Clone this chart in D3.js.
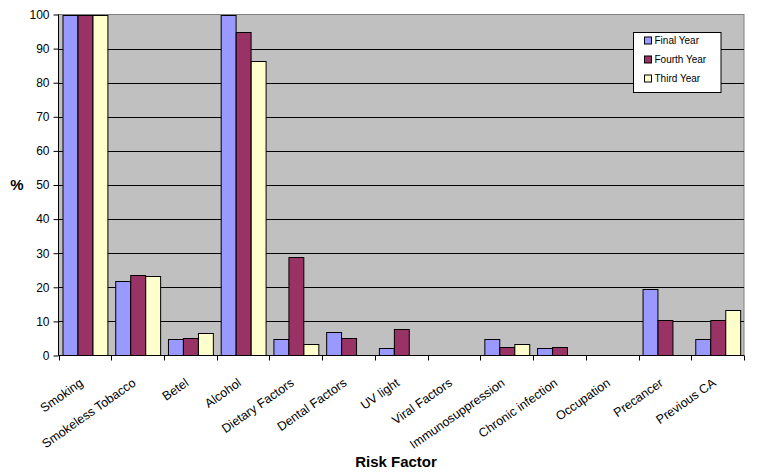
<!DOCTYPE html>
<html><head><meta charset="utf-8">
<script src="https://cdn.jsdelivr.net/npm/d3@7"></script>
<style>body{margin:0;background:#fff}svg{display:block}text{font-family:"Liberation Sans",Arial,sans-serif}</style>
</head><body>
<svg id="c" width="772" height="472"></svg>
<script>
const categories = ["Smoking","Smokeless Tobacco","Betel","Alcohol","Dietary Factors","Dental Factors","UV light","Viral Factors","Immunosuppression","Chronic infection","Occupation","Precancer","Previous CA"];
const seriesNames = ["Final Year","Fourth Year","Third Year"];
const finalYear  = [100, 21.8, 4.7, 100, 4.8, 7.0, 2.2, 0, 4.8, 2.2, 0, 19.5, 4.8];
const fourthYear = [100, 23.5, 5.0, 94.8, 28.9, 5.1, 7.7, 0, 2.5, 2.5, 0, 10.4, 10.4];
const thirdYear  = [100, 23.3, 6.5, 86.5, 3.3, 0, 0, 0, 3.3, 0, 0, 0, 13.3];
const yTicks = [0,10,20,30,40,50,60,70,80,90,100];
const colors = ["#9999FF","#993366","#FFFFCC"];
const series = [finalYear, fourthYear, thirdYear];

const svg = d3.select("#c");
const L = 58.5, R = 744, T = 14.5, B = 355.5;
const x = d3.scaleBand().domain(categories).range([L, R]).paddingInner(0).paddingOuter(0);
const inner = d3.scaleBand().domain(seriesNames).range([0, x.bandwidth()]).paddingInner(0).paddingOuter(0.27);
const y = d3.scaleLinear().domain([0, 100]).range([B, T]);

svg.append("rect").attr("x", L).attr("y", T).attr("width", R - L).attr("height", B - T)
  .attr("fill", "#C0C0C0").attr("stroke", "#808080").attr("stroke-width", 1);

svg.append("g").selectAll("line").data(yTicks.filter(d => d > 0 && d < 100)).join("line")
  .attr("x1", L).attr("x2", R).attr("y1", d => Math.round(y(d)) + 0.5).attr("y2", d => Math.round(y(d)) + 0.5)
  .attr("stroke", "#000").attr("stroke-width", 1);

const groups = svg.append("g").selectAll("g").data(categories).join("g")
  .attr("transform", d => `translate(${x(d)},0)`);
groups.selectAll("rect").data((c, i) => series.map((s, j) => ({name: seriesNames[j], v: s[i], j})).filter(d => d.v > 0))
  .join("rect")
  .attr("x", d => Math.round(inner(d.name)) + 0.5)
  .attr("width", inner.bandwidth())
  .attr("y", d => Math.round(y(d.v)) + 0.5)
  .attr("height", d => B - Math.round(y(d.v)) - 0.5)
  .attr("fill", d => colors[d.j]).attr("stroke", "#000").attr("stroke-width", 1);

// Y axis
const yAxis = d3.axisLeft(y).tickValues(yTicks).tickSize(5).tickPadding(4);
const gy = svg.append("g").attr("transform", `translate(${L},0)`).call(yAxis);
gy.selectAll("text").attr("font-size", 12).attr("fill", "#000").attr("font-family", "'Liberation Sans', Arial, sans-serif");
gy.selectAll("line,path").attr("stroke", "#000");
gy.select(".domain").attr("d", `M0,${T}V${B}`);

// X axis with ticks at category boundaries
const gx = svg.append("g");
gx.append("line").attr("x1", L).attr("x2", R).attr("y1", B).attr("y2", B).attr("stroke", "#000");
const bounds = categories.map(c => x(c)).concat([R]);
gx.selectAll("line.tk").data(bounds).join("line").attr("class", "tk")
  .attr("x1", d => Math.round(d) + 0.5).attr("x2", d => Math.round(d) + 0.5).attr("y1", B).attr("y2", B + 5).attr("stroke", "#000");
gx.selectAll("text").data(categories).join("text")
  .attr("transform", d => `translate(${x(d) + x.bandwidth() / 2 - 6},${B + 22}) rotate(-35)`)
  .attr("text-anchor", "end").attr("dy", "0.71em").attr("font-size", 12.5).attr("fill", "#000")
  .text(d => d);

svg.append("text").attr("x", 396).attr("y", 467).attr("text-anchor", "middle")
  .attr("font-size", 15).attr("font-weight", "bold").text("Risk Factor");
svg.append("text").attr("x", 17).attr("y", 190).attr("text-anchor", "middle")
  .attr("font-size", 15).attr("font-weight", "bold").text("%");

// Legend
const lg = svg.append("g").attr("transform", "translate(633.5,32.5)");
lg.append("rect").attr("width", 87.5).attr("height", 60).attr("fill", "#fff").attr("stroke", "#000");
seriesNames.forEach((n, i) => {
  const row = lg.append("g").attr("transform", `translate(11,${11.5 + i * 19})`);
  row.append("rect").attr("width", 7).attr("height", 7).attr("y", -7).attr("fill", colors[i]).attr("stroke", "#000");
  row.append("text").attr("x", 10).attr("y", 0).attr("font-size", 10).text(n);
});
</script>
</body></html>
